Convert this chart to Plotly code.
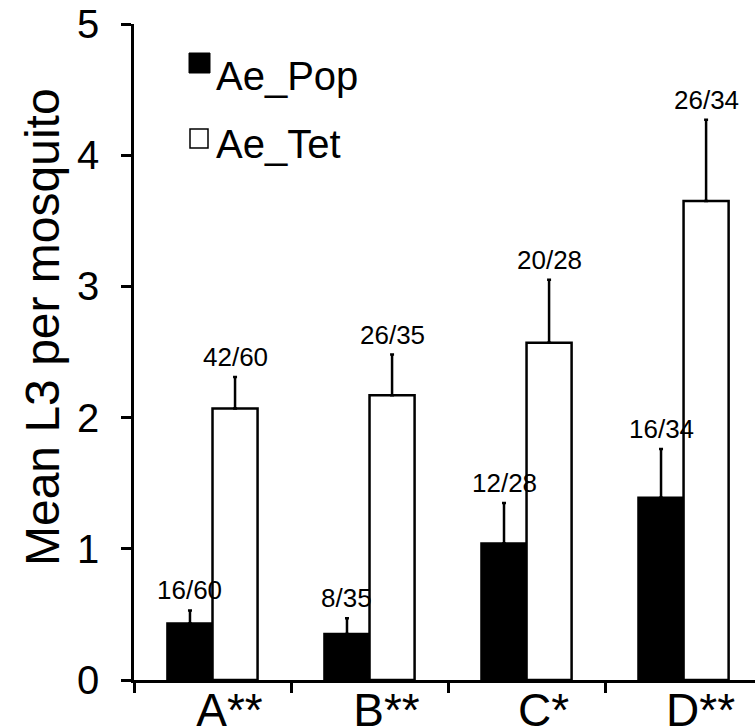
import plotly.graph_objects as go

# ---- data ----
categories = ["A**", "B**", "C*", "D**"]
pop_mean = [0.43, 0.35, 1.04, 1.39]
pop_err = [0.10, 0.12, 0.31, 0.37]
tet_mean = [2.07, 2.17, 2.57, 3.65]
tet_err = [0.24, 0.31, 0.48, 0.62]
pop_labels = ["16/60", "8/35", "12/28", "16/34"]
tet_labels = ["42/60", "26/35", "20/28", "26/34"]
series_names = ["Ae_Pop", "Ae_Tet"]
y_ticks = [0, 1, 2, 3, 4, 5]

FONT = "Liberation Sans, Arial, Helvetica, sans-serif"
W, H = 755, 728
ML, MR, MT, MB = 134, 0, 24, 48
BW = 0.287

xs = list(range(len(categories)))

fig = go.Figure()
fig.add_trace(go.Bar(
    x=xs, y=pop_mean, width=BW, offset=-BW, name=series_names[0],
    marker=dict(color="black", line=dict(color="black", width=2.5)),
    error_y=dict(type="data", array=pop_err, arrayminus=[0] * len(xs), symmetric=False,
                 color="black", thickness=2.5, width=2),
    showlegend=False,
))
fig.add_trace(go.Bar(
    x=xs, y=tet_mean, width=BW, offset=0, name=series_names[1],
    marker=dict(color="white", line=dict(color="black", width=2.5)),
    error_y=dict(type="data", array=tet_err, arrayminus=[0] * len(xs), symmetric=False,
                 color="black", thickness=2.5, width=2),
    showlegend=False,
))

annotations = []
for i in xs:
    annotations.append(dict(x=i - BW / 2, y=pop_mean[i] + pop_err[i], xref="x", yref="y",
                            text=pop_labels[i], showarrow=False, yanchor="middle", yshift=20,
                            font=dict(family=FONT, size=26, color="black")))
    annotations.append(dict(x=i + BW / 2, y=tet_mean[i] + tet_err[i], xref="x", yref="y",
                            text=tet_labels[i], showarrow=False, yanchor="middle", yshift=20,
                            font=dict(family=FONT, size=26, color="black")))

pw = W - ML - MR
ph = H - MT - MB


def px(x):
    return (x - ML) / pw


def py(y):
    return (H - MB - y) / ph


# y-axis title
annotations.append(dict(x=px(42), y=py(327), xref="paper", yref="paper", text="Mean L3 per mosquito",
                        textangle=-90, showarrow=False, xanchor="center", yanchor="middle",
                        font=dict(family=FONT, size=48, color="black")))

# legend (custom)
shapes = [
    dict(type="rect", xref="paper", yref="paper", x0=px(189), x1=px(210), y0=py(73), y1=py(53),
         fillcolor="black", line=dict(color="black", width=1)),
    dict(type="rect", xref="paper", yref="paper", x0=px(190), x1=px(208), y0=py(148), y1=py(129),
         fillcolor="white", line=dict(color="black", width=1.5)),
]
annotations.append(dict(x=px(214), y=py(76), xref="paper", yref="paper", text=series_names[0],
                        showarrow=False, xanchor="left", yanchor="middle",
                        font=dict(family=FONT, size=40, color="black")))
annotations.append(dict(x=px(214), y=py(144), xref="paper", yref="paper", text=series_names[1],
                        showarrow=False, xanchor="left", yanchor="middle",
                        font=dict(family=FONT, size=40, color="black")))

fig.update_layout(
    width=W, height=H,
    margin=dict(l=ML, r=MR, t=MT, b=MB, pad=0),
    paper_bgcolor="white", plot_bgcolor="white",
    barmode="overlay",
    showlegend=False,
    annotations=annotations,
    shapes=shapes,
    font=dict(family=FONT, color="black"),
)
fig.update_xaxes(
    range=[-0.5, 3.455], tickvals=xs, ticktext=categories, ticks="",
    showline=True, linecolor="black", linewidth=2.5, showgrid=False, zeroline=False,
    tickfont=dict(family=FONT, size=46, color="black"), automargin=False,
    ticklabelshift=17, ticklabelstandoff=-12,
    minor=dict(tickvals=[-0.5, 0.5, 1.5, 2.5], ticks="outside", ticklen=10, tickwidth=2.5,
               tickcolor="black", showgrid=False),
)
fig.update_yaxes(
    range=[0, 5], tickvals=y_ticks, ticks="outside", ticklen=10, tickwidth=2.5, tickcolor="black",
    showline=True, linecolor="black", linewidth=2.5, showgrid=False, zeroline=False,
    tickfont=dict(family=FONT, size=40, color="black"), automargin=False,
    ticklabelstandoff=14,
)

fig.write_html("out.html")
